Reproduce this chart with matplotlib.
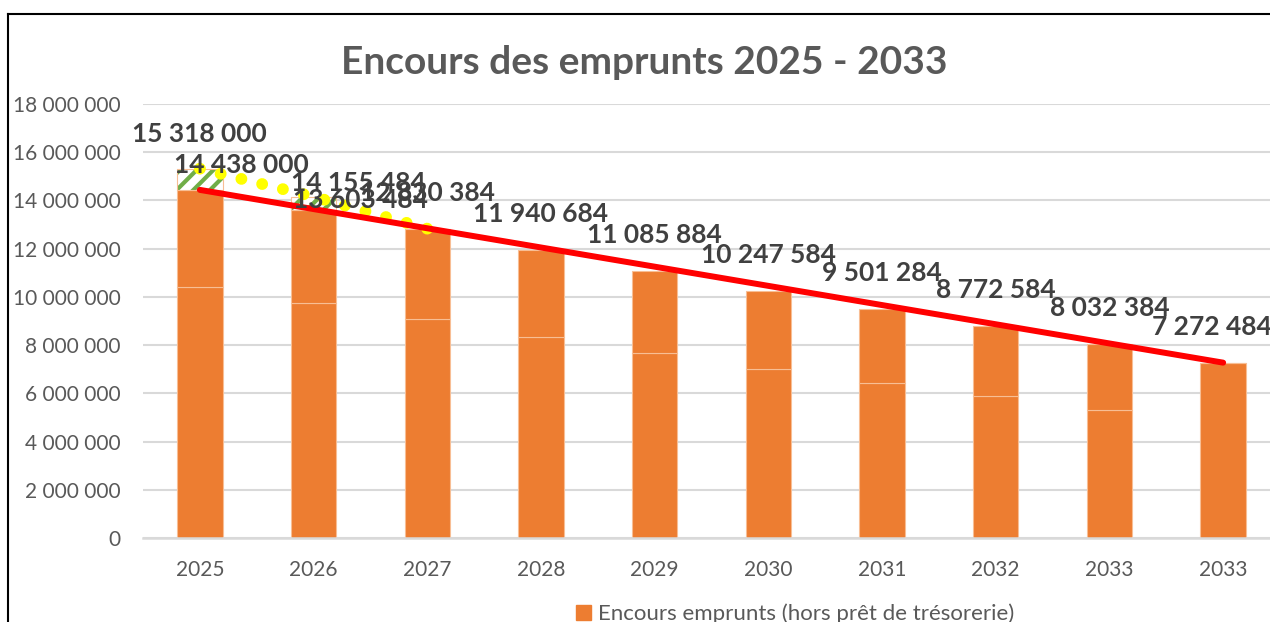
import numpy as np
import matplotlib
matplotlib.use("Agg")
import matplotlib.pyplot as plt
from matplotlib.patches import Patch
from matplotlib.lines import Line2D

plt.rcParams['font.family'] = ['Lato', 'DejaVu Sans']

years = ["2025", "2026", "2027", "2028", "2029", "2030", "2031", "2032", "2033", "2033"]
encours = [14438000, 13603484, 12830384, 11940684, 11085884,
           10247584, 9501284, 8772584, 8032384, 7272484]
# lower part of each stacked bar (internal segment boundary)
part_bas = [10410000, 9750000, 9080000, 8350000, 7670000,
            7000000, 6430000, 5890000, 5310000, 7272484]
# hatched extra on top (2025, 2026)
extra = [880000, 552000, 0, 0, 0, 0, 0, 0, 0, 0]
# yellow dotted series
jaune = [15318000, 14155484, 12830384]

# label offsets in points (dx, dy)
off_encours = [(30, 18), (34, 7), (0, 26), (0, 26), (0, 26),
               (0, 26), (0, 26), (0, 26), (0, 26), (-8, 26)]
off_total = [(0, 25), (32, 10)]

def fmt(v):
    return f"{v:,}".replace(",", " ")

fig = plt.figure(figsize=(12.7, 6.22), dpi=100)
ax = fig.add_axes([143/1270, 1-538/622, (1280-143)/1270, (538-104)/622])

x = np.arange(len(years))
orange = "#ED7D31"
edge = "#F8BE94"
haut = [e - b for e, b in zip(encours, part_bas)]
ax.bar(x, part_bas, width=0.4, color=orange, edgecolor=edge, linewidth=0.8, zorder=2)
ax.bar(x, haut, width=0.4, bottom=part_bas, color=orange, edgecolor=edge, linewidth=0.8, zorder=2)
plt.rcParams['hatch.linewidth'] = 3.0
ex = [i for i in x if extra[i] > 0]
ax.bar(ex, [extra[i] for i in ex], width=0.4, bottom=[encours[i] for i in ex],
       color="white", edgecolor="#70AD47", hatch="//", linewidth=0, zorder=2)
# light outline around hatched part
ax.bar(ex, [extra[i] for i in ex], width=0.4, bottom=[encours[i] for i in ex],
       fill=False, edgecolor=edge, linewidth=0.8, zorder=2)

# yellow dotted line
ax.plot(x[:len(jaune)], jaune, color="#FFFF00", lw=8.5, linestyle=(0, (0.01, 1.8)),
        dash_capstyle="round", zorder=4)
# red line first -> last
ax.plot([x[0], x[-1]], [encours[0], encours[-1]], color="#FF0000", lw=4.3,
        solid_capstyle="round", zorder=5)

for i, v in enumerate(encours):
    ax.annotate(fmt(v), (x[i], v), xytext=off_encours[i], textcoords="offset points",
                ha="center", va="center", fontsize=19, fontweight="bold",
                color="#404040", zorder=6, annotation_clip=False)
for i, (dx, dy) in enumerate(off_total):
    t = encours[i] + extra[i]
    ax.annotate(fmt(t), (x[i], t), xytext=(dx, dy), textcoords="offset points",
                ha="center", va="center", fontsize=19, fontweight="bold",
                color="#404040", zorder=6, annotation_clip=False)

ax.set_xlim(-0.5, 9.5)
ax.set_ylim(0, 18000000)
ax.set_yticks(np.arange(0, 18000001, 2000000))
ax.set_yticklabels([fmt(v) for v in range(0, 18000001, 2000000)])
ax.set_xticks(x)
ax.set_xticklabels(years)
ax.tick_params(axis="both", length=0, labelsize=15, labelcolor="#595959")
ax.tick_params(axis="x", pad=15.5)
ax.tick_params(axis="y", pad=16)
ax.grid(axis="y", color="#D9D9D9", lw=1.5, zorder=0)
for s in ["top", "right", "left"]:
    ax.spines[s].set_visible(False)
ax.spines["bottom"].set_color("#D9D9D9")
ax.spines["bottom"].set_linewidth(1.8)

fig.text(644/1270, 1-63/622, "Encours des emprunts 2025 - 2033", ha="center", va="center",
         fontsize=28, fontweight="bold", color="#595959")

h = Patch(facecolor=orange, edgecolor=orange)
fig.legend([h], ["Encours emprunts (hors prêt de trésorerie)"], loc="center",
           bbox_to_anchor=(795/1270, 1-614/622), frameon=False, fontsize=16,
           labelcolor="#595959", handlelength=0.7, handleheight=0.7, handletextpad=0.3)

# outer frame (cropped at right and bottom)
fig.add_artist(Line2D([8/1270, 8/1270], [0, 1-14/622], color="black", lw=1.5))
fig.add_artist(Line2D([8/1270, 1], [1-14/622, 1-14/622], color="black", lw=1.5))

fig.savefig("out.png", dpi=100)
